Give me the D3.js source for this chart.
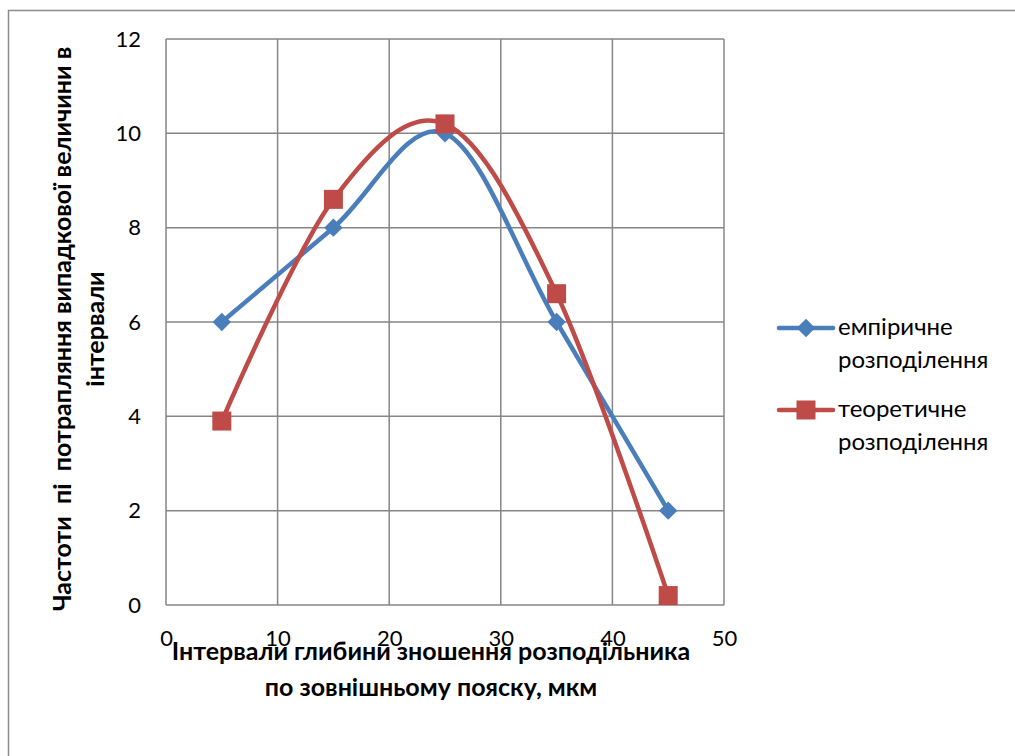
<!DOCTYPE html>
<html>
<head>
<meta charset="utf-8">
<script src="https://cdn.jsdelivr.net/npm/d3@7"></script>
<style>
  html, body { margin: 0; padding: 0; background: #fff; }
  svg text { font-family: Lato, "Open Sans", sans-serif; fill: #000; white-space: pre; }
</style>
</head>
<body>
<svg id="chart" width="1015" height="756"></svg>
<script>
// Interval midpoints, µm
const intervals = [5, 15, 25, 35, 45];
// Observed frequencies per interval
const empirical = [6, 8, 10, 6, 2];
// Frequencies expected from the fitted distribution
const theoretical = [3.9, 8.6, 10.2, 6.6, 0.2];
const seriesNames = [["емпіричне", "розподілення"], ["теоретичне", "розподілення"]];
const xTicks = [0, 10, 20, 30, 40, 50];
const yTicks = [0, 2, 4, 6, 8, 10, 12];
const yTitle = ["Частоти  пі  потрапляння випадкової величини в", "інтервали"];
const xTitle = ["Інтервали глибини зношення розподільника", "по зовнішньому пояску, мкм"];

const svg = d3.select("#chart");
const plot = { left: 166, top: 39, right: 724, bottom: 605 };
const x = d3.scaleLinear().domain([0, 50]).range([plot.left, plot.right]);
const y = d3.scaleLinear().domain([0, 12]).range([plot.bottom, plot.top]);

const blue = "#4a7ebb", red = "#be4b48", grid = "#868686";

// chart frame
svg.append("rect").attr("x", 8.5).attr("y", 10.5).attr("width", 1040).attr("height", 800)
  .attr("fill", "none").attr("stroke", "#8c8c8c").attr("stroke-width", 1.5);

// gridlines
const g = svg.append("g");
g.selectAll("line.v").data(xTicks).join("line")
  .attr("x1", d => x(d)).attr("x2", d => x(d)).attr("y1", plot.top).attr("y2", plot.bottom)
  .attr("stroke", grid).attr("stroke-width", 1.5);
g.selectAll("line.h").data(yTicks).join("line")
  .attr("y1", d => y(d)).attr("y2", d => y(d)).attr("x1", plot.left).attr("x2", plot.right)
  .attr("stroke", grid).attr("stroke-width", 1.5);

// axes with D3 axis generators, only labels shown
const yAxis = svg.append("g").attr("transform", `translate(${plot.left},0)`)
  .call(d3.axisLeft(y).tickValues(yTicks).tickSize(0).tickPadding(25));
const xAxis = svg.append("g").attr("transform", `translate(0,${plot.bottom})`)
  .call(d3.axisBottom(x).tickValues(xTicks).tickSize(0).tickPadding(25));
[yAxis, xAxis].forEach(a => {
  a.select(".domain").remove();
  a.selectAll("text").attr("font-size", 22).attr("font-family", "Lato, sans-serif").attr("fill", "#000");
});

// series
const line = d3.line().x(d => x(d[0])).y(d => y(d[1])).curve(d3.curveCardinal.tension(0));
const empPts = intervals.map((v, i) => [v, empirical[i]]);
const theoPts = intervals.map((v, i) => [v, theoretical[i]]);

svg.append("path").attr("d", line(empPts)).attr("fill", "none").attr("stroke", blue)
  .attr("stroke-width", 4.5).attr("stroke-linejoin", "round").attr("stroke-linecap", "round");
svg.selectAll("path.dia").data(empPts).join("path")
  .attr("transform", d => `translate(${x(d[0])},${y(d[1])}) rotate(45)`)
  .attr("d", "M-6.5,-6.5H6.5V6.5H-6.5Z").attr("fill", blue);

svg.append("path").attr("d", line(theoPts)).attr("fill", "none").attr("stroke", red)
  .attr("stroke-width", 4.5).attr("stroke-linejoin", "round").attr("stroke-linecap", "round");
svg.selectAll("rect.sq").data(theoPts).join("rect")
  .attr("x", d => x(d[0]) - 9.5).attr("y", d => y(d[1]) - 9.5)
  .attr("width", 19).attr("height", 19).attr("fill", red);

// axis titles
const yt = svg.append("text").attr("transform", "translate(0,329) rotate(-90)")
  .attr("text-anchor", "middle").attr("font-weight", "bold").attr("font-size", 25);
yt.selectAll("tspan").data(yTitle).join("tspan")
  .attr("x", 0).attr("y", (d, i) => 71 + i * 33).text(d => d);

const xt = svg.append("text").attr("text-anchor", "middle").attr("font-weight", "bold").attr("font-size", 25);
xt.selectAll("tspan").data(xTitle).join("tspan")
  .attr("x", 431).attr("y", (d, i) => 660 + i * 36).text(d => d);

// legend
const legendY = [328, 410];
const leg = svg.selectAll("g.leg").data(seriesNames).join("g")
  .attr("transform", (d, i) => `translate(0,${legendY[i]})`);
leg.append("line").attr("x1", 779).attr("x2", 833).attr("y1", 0).attr("y2", 0)
  .attr("stroke", (d, i) => i ? red : blue).attr("stroke-width", 4.5).attr("stroke-linecap", "round");
leg.filter((d, i) => i === 0).append("path")
  .attr("transform", "translate(806,0) rotate(45)").attr("d", "M-6.5,-6.5H6.5V6.5H-6.5Z").attr("fill", blue);
leg.filter((d, i) => i === 1).append("rect")
  .attr("x", 796.5).attr("y", -9.5).attr("width", 19).attr("height", 19).attr("fill", red);
leg.append("text").attr("font-size", 24).selectAll("tspan").data(d => d).join("tspan")
  .attr("x", 838).attr("y", (d, i) => 7 + i * 33).text(d => d);
</script>
</body>
</html>
